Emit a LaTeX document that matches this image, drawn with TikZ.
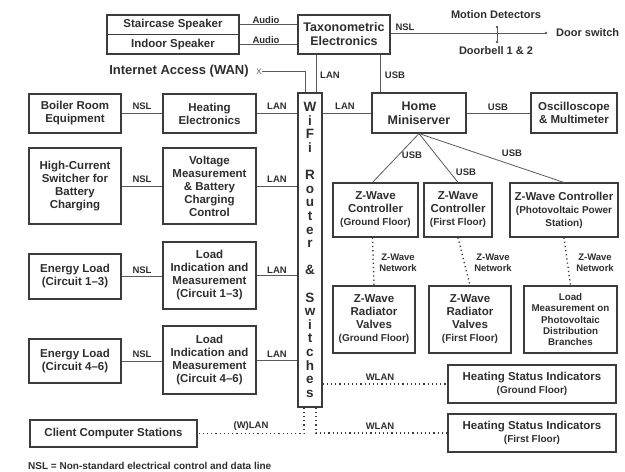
\documentclass[tikz,border=0pt]{standalone}
\usepackage{fontspec}
\setmainfont{Liberation Sans}
\usepackage{tikz}

\definecolor{boxc}{HTML}{3C3C3C}
\definecolor{linec}{HTML}{5A5A5A}
\definecolor{txt}{HTML}{2E2E2E}

\tikzset{
  box/.style={draw=boxc, line width=1.1pt, align=center, inner sep=0pt, text=txt,
    font=\bfseries\fontsize{11.5}{13}\selectfont},
  lbl/.style={inner sep=0pt, text=txt, align=center, font=\bfseries\fontsize{9.5}{11}\selectfont},
  wire/.style={draw=linec, line width=0.8pt},
  dots/.style={draw=boxc, line width=1.4pt, dash pattern=on 1.2pt off 3pt},
}
\newcommand{\subtxt}{\fontsize{10}{11}\selectfont}

\begin{document}
\begin{tikzpicture}[x=1pt, y=-1pt]
\useasboundingbox (0,0) rectangle (625,472);

% top row
\node[box, minimum width=132pt, minimum height=19.5pt] (stair) at (173,24.75) {Staircase Speaker};
\node[box, minimum width=132pt, minimum height=19.5pt] (indoor) at (173,44.25) {Indoor Speaker};
\node[box, minimum width=92pt, minimum height=39pt, font=\bfseries\fontsize{12.5}{14}\selectfont] (taxo) at (344,34.5) {Taxonometric\\Electronics};

\draw[wire] (stair.east) -- (stair.east -| taxo.west);
\draw[wire] (indoor.east) -- (indoor.east -| taxo.west);
\node[lbl] (a1) at (266,20) {Audio};
\node[lbl] (a2) at (266,40) {Audio};

% door and motion detectors
\coordinate (doorpt) at (546,33);
\coordinate (motionpt) at (497,27);
\coordinate (bellpt) at (497,42);
\draw[wire] (taxo.east |- doorpt) -- (doorpt);
\draw[wire] (motionpt) -- (bellpt);
\fill[linec] (doorpt) circle (1.3pt) (motionpt) circle (1.3pt) (bellpt) circle (1.3pt);
\node[lbl] (nsl0) at (405,27) {NSL};
\node[lbl, anchor=west, font=\bfseries\fontsize{11}{13}\selectfont] (door) at (556,33) {Door switch};
\node[lbl, font=\bfseries\fontsize{11}{13}\selectfont] (motion) at (496,15) {Motion Detectors};
\node[lbl, font=\bfseries\fontsize{11}{13}\selectfont] (bell) at (496,51) {Doorbell 1 \& 2};

% router
\node[box, minimum width=24pt, minimum height=314pt, font=\bfseries\fontsize{13.5}{13.6}\selectfont] (router) at (310,250)
  {W\\i\\F\\i\\~\\R\\o\\u\\t\\e\\r\\~\\\&\\~\\S\\w\\i\\t\\c\\h\\e\\s};

% internet access
\node[lbl, font=\bfseries\fontsize{13}{15}\selectfont] (wan) at (179,71) {Internet Access (WAN)};
\node[inner sep=0.5pt, text=linec, font=\rmfamily\fontsize{8}{8}\selectfont] (wanx) at (259,71.5) {X};
\coordinate (wanin) at ([xshift=-5pt]router.north);
\draw[wire] (wanx.east) -| (wanin);

% miniserver
\node[box, minimum width=94pt, minimum height=40pt, font=\bfseries\fontsize{12.5}{14}\selectfont] (mini) at (419,113) {Home\\Miniserver};
\node[box, minimum width=86pt, minimum height=40pt] (osc) at (574,113) {Oscilloscope\\\& Multimeter};

\coordinate (lantop) at ([xshift=6pt]router.north);
\coordinate (usbtop) at ([xshift=-39pt]mini.north);
\draw[wire] (lantop) -- (lantop |- taxo.south);
\draw[wire] (usbtop) -- (usbtop |- taxo.south);
\node[lbl] (l0) at (330,75) {LAN};
\node[lbl] (u0) at (395,75) {USB};

\draw[wire] (mini.west -| router.east) -- (mini.west);
\draw[wire] (mini.east) -- (osc.west);
\node[lbl] (l1) at (345,106) {LAN};
\node[lbl] (u1) at (498,107) {USB};

% left columns
\node[box, minimum width=92pt, minimum height=39pt] (boiler) at (75,113.5) {Boiler Room\\Equipment};
\node[box, minimum width=93pt, minimum height=39pt] (heat) at (209.5,113.5) {Heating\\Electronics};
\node[box, minimum width=92pt, minimum height=76pt] (hics) at (75,186) {High-Current\\Switcher for\\Battery\\Charging};
\node[box, minimum width=93pt, minimum height=76pt] (volt) at (209.5,186) {Voltage\\Measurement\\\& Battery\\Charging\\Control};
\node[box, minimum width=92pt, minimum height=45pt] (load1) at (75,276.5) {Energy Load\\(Circuit 1\textendash3)};
\node[box, minimum width=93pt, minimum height=67pt] (ind1) at (209.5,275.5) {Load\\Indication and\\Measurement\\(Circuit 1\textendash3)};
\node[box, minimum width=92pt, minimum height=44pt] (load2) at (75,361) {Energy Load\\(Circuit 4\textendash6)};
\node[box, minimum width=93pt, minimum height=68pt] (ind2) at (209.5,360) {Load\\Indication and\\Measurement\\(Circuit 4\textendash6)};

\draw[wire] (boiler) -- (heat);
\draw[wire] (heat.east) -- (heat.east -| router.west);
\draw[wire] (hics) -- (volt);
\draw[wire] (volt.east) -- (volt.east -| router.west);
\draw[wire] (load1.east) -- (load1.east -| ind1.west);
\draw[wire] (ind1.east) -- (ind1.east -| router.west);
\draw[wire] (load2.east) -- (load2.east -| ind2.west);
\draw[wire] (ind2.east) -- (ind2.east -| router.west);

\node[lbl] (n1) at (142,106) {NSL};
\node[lbl] (n2) at (142,179) {NSL};
\node[lbl] (n3) at (142,270) {NSL};
\node[lbl] (n4) at (142,354) {NSL};
\node[lbl] (l2) at (277,106) {LAN};
\node[lbl] (l3) at (277,179) {LAN};
\node[lbl] (l4) at (277,270) {LAN};
\node[lbl] (l5) at (277,354) {LAN};

% z-wave controllers
\node[box, minimum width=85pt, minimum height=54pt] (zwg) at (375.5,210) {Z-Wave\\Controller\\{\subtxt(Ground Floor)}};
\node[box, minimum width=68pt, minimum height=54pt] (zwf) at (458,210) {Z-Wave\\Controller\\{\subtxt(First Floor)}};
\node[box, minimum width=108pt, minimum height=54pt] (zwp) at (564,210) {Z-Wave Controller\\{\subtxt(Photovoltaic Power}\\{\subtxt Station)}};

\draw[wire] (mini.south) -- ([xshift=-3pt]zwg.north);
\draw[wire] (mini.south) -- (zwf.north);
\draw[wire] (mini.south) -- (zwp.north);
\node[lbl] (u2) at (412,155) {USB};
\node[lbl] (u3) at (466,172) {USB};
\node[lbl] (u4) at (512,153) {USB};

% z-wave devices
\node[box, minimum width=82pt, minimum height=67pt] (radg) at (374,319.5) {Z-Wave\\Radiator\\Valves\\{\subtxt(Ground Floor)}};
\node[box, minimum width=82pt, minimum height=67pt] (radf) at (470,319.5) {Z-Wave\\Radiator\\Valves\\{\subtxt(First Floor)}};
\node[box, minimum width=93pt, minimum height=67pt, font=\bfseries\fontsize{9.8}{11.3}\selectfont] (pvload) at (570.5,319.5) {Load\\Measurement on\\Photovoltaic\\Distribution\\Branches};

\draw[dots] ([xshift=-3pt]zwg.south) -- (radg.north);
\draw[dots] (zwf.south) -- (radf.north);
\draw[dots] (zwp.south) -- (pvload.north);
\node[lbl] (z1) at (398,263) {Z-Wave\\Network};
\node[lbl] (z2) at (493,263) {Z-Wave\\Network};
\node[lbl] (z3) at (595,263) {Z-Wave\\Network};

% heating status indicators and clients
\node[box, minimum width=168pt, minimum height=38pt] (hsg) at (532,384) {Heating Status Indicators\\{\subtxt(Ground Floor)}};
\node[box, minimum width=168pt, minimum height=38pt] (hsf) at (532,433) {Heating Status Indicators\\{\subtxt(First Floor)}};
\node[box, minimum width=167pt, minimum height=27pt] (client) at (113.5,433.5) {Client Computer Stations};

\draw[dots] (hsg.west -| router.east) -- (hsg.west);
\draw[dots] ([xshift=-6pt]router.south) |- (client.east);
\draw[dots] ([xshift=6pt]router.south) |- (hsf.west);
\node[lbl] (w1) at (380,377) {WLAN};
\node[lbl] (w2) at (380,426) {WLAN};
\node[lbl] (w3) at (251,426) {(W)LAN};

\node[lbl, anchor=west, font=\bfseries\fontsize{10}{12}\selectfont] (note) at (28,466) {NSL = Non-standard electrical control and data line};

\end{tikzpicture}
\end{document}
